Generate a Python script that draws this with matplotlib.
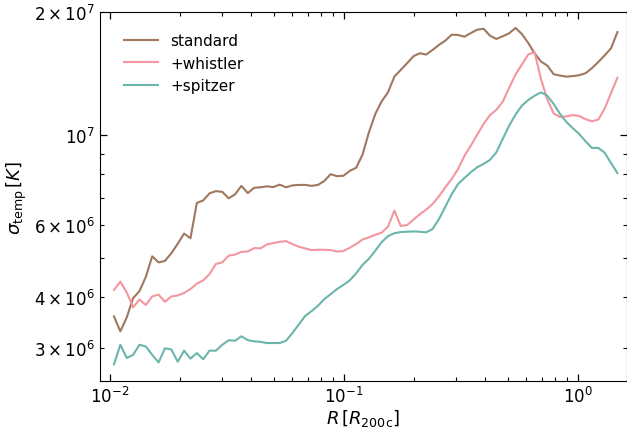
import numpy as np
import matplotlib
matplotlib.use("Agg")
import matplotlib.pyplot as plt

# radial bin centres [R_200c]
radius = [0.01040, 0.01107, 0.01179, 0.01255, 0.01336, 0.01423, 0.01515, 0.01613,
          0.01717, 0.01829, 0.01947, 0.02073, 0.02207, 0.02350, 0.02502, 0.02663,
          0.02836, 0.03019, 0.03215, 0.03423, 0.03644, 0.03880, 0.04131, 0.04398,
          0.04683, 0.04986, 0.05309, 0.05652, 0.06018, 0.06407, 0.06822, 0.07263,
          0.07733, 0.08234, 0.08766, 0.09333, 0.09938, 0.1058, 0.1127, 0.1199,
          0.1277, 0.1360, 0.1448, 0.1541, 0.1641, 0.1747, 0.1860, 0.1981,
          0.2109, 0.2245, 0.2390, 0.2545, 0.2710, 0.2885, 0.3072, 0.3270,
          0.3482, 0.3707, 0.3947, 0.4203, 0.4475, 0.4764, 0.5073, 0.5401,
          0.5750, 0.6122, 0.6518, 0.6940, 0.7389, 0.7868, 0.8377, 0.8919,
          0.9497, 1.011, 1.077, 1.146, 1.220, 1.299, 1.383, 1.473]

# sigma_temp in units of 1e6 K
standard = [3.59, 3.30, 3.57, 3.98, 4.14, 4.49, 5.04, 4.87, 4.91, 5.13,
            5.41, 5.73, 5.58, 6.81, 6.91, 7.19, 7.28, 7.25, 6.99, 7.15,
            7.50, 7.20, 7.42, 7.44, 7.48, 7.45, 7.55, 7.44, 7.52, 7.54,
            7.54, 7.50, 7.54, 7.71, 8.01, 7.92, 7.94, 8.16, 8.31, 8.94,
            10.14, 11.25, 12.08, 12.71, 13.89, 14.43, 14.98, 15.59, 15.85, 15.73,
            16.15, 16.61, 17.02, 17.60, 17.57, 17.40, 17.76, 18.10, 18.20, 17.50,
            17.18, 17.44, 17.73, 18.28, 17.67, 16.80, 15.85, 15.13, 14.78, 14.08,
            13.97, 13.89, 13.93, 14.00, 14.16, 14.57, 15.08, 15.66, 16.30, 17.86]

whistler = [4.17, 4.37, 4.11, 3.78, 3.95, 3.83, 4.02, 4.06, 3.90, 4.02,
            4.04, 4.10, 4.19, 4.32, 4.40, 4.56, 4.83, 4.87, 5.06, 5.09,
            5.17, 5.18, 5.28, 5.27, 5.39, 5.43, 5.47, 5.49, 5.40, 5.32,
            5.27, 5.22, 5.23, 5.23, 5.22, 5.18, 5.19, 5.29, 5.40, 5.54,
            5.61, 5.69, 5.76, 5.96, 6.52, 5.98, 6.01, 6.20, 6.39, 6.56,
            6.77, 7.07, 7.44, 7.80, 8.25, 8.89, 9.41, 10.01, 10.63, 11.18,
            11.52, 12.05, 13.03, 14.05, 14.87, 15.73, 15.95, 13.71, 12.20, 11.28,
            11.06, 11.10, 11.18, 11.13, 10.92, 10.80, 10.90, 11.60, 12.66, 13.80]

spitzer = [2.74, 3.06, 2.84, 2.89, 3.06, 3.03, 2.89, 2.77, 3.00, 2.98,
           2.78, 2.96, 2.83, 2.92, 2.82, 2.96, 2.96, 3.06, 3.14, 3.13,
           3.21, 3.14, 3.12, 3.11, 3.09, 3.09, 3.09, 3.13, 3.27, 3.43,
           3.60, 3.70, 3.81, 3.96, 4.07, 4.19, 4.29, 4.40, 4.58, 4.80,
           4.97, 5.20, 5.46, 5.65, 5.74, 5.78, 5.79, 5.80, 5.79, 5.77,
           5.88, 6.22, 6.67, 7.16, 7.58, 7.84, 8.10, 8.33, 8.49, 8.68,
           9.06, 9.77, 10.53, 11.20, 11.79, 12.17, 12.47, 12.71, 12.47, 11.90,
           11.25, 10.75, 10.38, 10.05, 9.64, 9.29, 9.29, 9.04, 8.53, 8.06]

labels = ["standard", "+whistler", "+spitzer"]
colors = ["#a0775f", "#f3969f", "#6cb5ab"]

fig = plt.figure(figsize=(6.27, 4.31), dpi=100)
ax = fig.add_axes([100 / 627, 1 - 382.3 / 431, 526.6 / 627, 369.3 / 431])

r = np.array(radius)
for data, lab, col in zip([standard, whistler, spitzer], labels, colors):
    ax.plot(r, np.array(data) * 1e6, color=col, lw=1.5, label=lab)

ax.set_xscale("log")
ax.set_yscale("log")
ax.set_xlim(0.009063, 1.612)
ax.set_ylim(2.49e6, 2.0e7)

ax.tick_params(which="both", direction="in", top=True, right=True, labelsize=12)
ax.tick_params(which="major", length=5, width=0.9)
ax.tick_params(which="minor", length=3, width=0.8)

ax.set_xlabel(r"$R\,[R_{\rm 200c}]$", fontsize=13, labelpad=0.5)
ax.set_ylabel(r"$\sigma_{\rm temp}\,[K]$", fontsize=13, labelpad=4)

ax.legend(loc="upper left", frameon=False, fontsize=11, handlelength=2.2,
          bbox_to_anchor=(0.02, 0.98))

fig.savefig("out.png", dpi=100)
